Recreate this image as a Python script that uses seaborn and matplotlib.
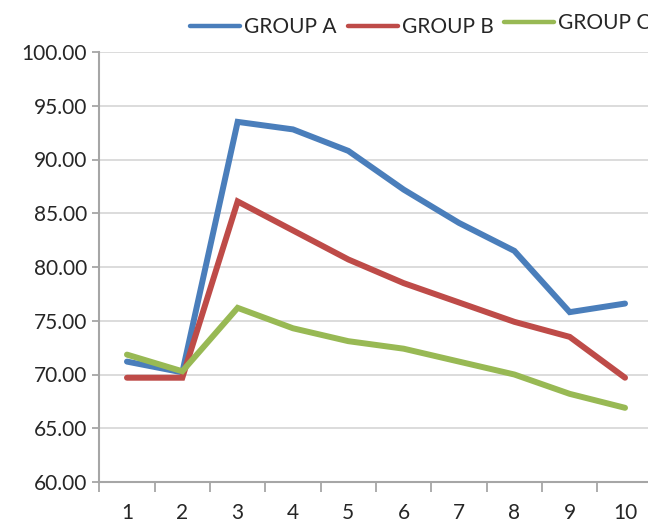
import numpy as np
import pandas as pd
import matplotlib
matplotlib.use("Agg")
import matplotlib.pyplot as plt
import seaborn as sns
from matplotlib.ticker import FixedLocator, FormatStrFormatter
from matplotlib.lines import Line2D

x_vals = [1, 2, 3, 4, 5, 6, 7, 8, 9, 10]
group_a = [71.2, 70.2, 93.5, 92.8, 90.8, 87.2, 84.1, 81.5, 75.8, 76.6]
group_b = [69.7, 69.7, 86.1, 83.4, 80.7, 78.5, 76.7, 74.9, 73.5, 69.7]
group_c = [71.85, 70.3, 76.2, 74.3, 73.1, 72.4, 71.2, 70.0, 68.2, 66.9]
series_names = ["GROUP A", "GROUP B", "GROUP C"]
colors = ["#4A7EBB", "#BE4B48", "#98B954"]
y_ticks = [60, 65, 70, 75, 80, 85, 90, 95, 100]

df = pd.DataFrame({
    "x": x_vals * 3,
    "value": group_a + group_b + group_c,
    "series": [series_names[0]] * 10 + [series_names[1]] * 10 + [series_names[2]] * 10,
})

sns.set_theme(style="white")
plt.rcParams["font.family"] = ["Lato", "DejaVu Sans"]

fig = plt.figure(figsize=(6.48, 5.22), dpi=100)
W, H = 648, 522
left, right, top, bottom = 99.3, 652.7, 52, 482
ax = fig.add_axes([left / W, (H - bottom) / H, (right - left) / W, (bottom - top) / H])

sns.lineplot(data=df, x="x", y="value", hue="series", palette=colors,
             linewidth=4.3, ax=ax, legend=False, solid_capstyle="round",
             solid_joinstyle="miter")

ax.set_xlim(0.5, 10.5)
ax.set_ylim(60, 100)
ax.set_xlabel("")
ax.set_ylabel("")

ax.yaxis.set_major_locator(FixedLocator(y_ticks))
ax.yaxis.set_major_formatter(FormatStrFormatter("%.2f"))
ax.set_xticks(x_vals)
ax.set_xticklabels([str(v) for v in x_vals])
ax.xaxis.set_minor_locator(FixedLocator(np.arange(0.5, 11, 1.0)))

ax.grid(axis="y", color="#D9D9D9", linewidth=1.3)
ax.set_axisbelow(True)

for s in ["top", "right"]:
    ax.spines[s].set_visible(False)
for s in ["left", "bottom"]:
    ax.spines[s].set_color("#A6A6A6")
    ax.spines[s].set_linewidth(1.5)

ax.tick_params(axis="y", which="major", direction="out", length=5, width=1.3,
               color="#A6A6A6", labelsize=15, labelcolor="#262626", pad=4, left=True)
ax.tick_params(axis="x", which="major", length=0, labelsize=15,
               labelcolor="#262626", pad=15)
ax.tick_params(axis="x", which="minor", direction="out", length=7, width=1.3,
               color="#A6A6A6", bottom=True)

handles = [Line2D([0], [0], color=c, linewidth=3.2, solid_capstyle="round") for c in colors]
leg_kw = dict(frameon=False, fontsize=15, handlelength=2.4, handletextpad=0.2,
              columnspacing=0.55, borderaxespad=0, borderpad=0, loc="center left")
leg1 = fig.legend(handles[:2], series_names[:2], ncol=2,
                  bbox_to_anchor=(190 / W, 1 - 27 / H), **leg_kw)
leg2 = fig.legend(handles[2:], series_names[2:], ncol=1,
                  bbox_to_anchor=(504 / W, 1 - 23 / H), **leg_kw)
for lg in (leg1, leg2):
    for t in lg.get_texts():
        t.set_color("#262626")

fig.savefig("out.png", dpi=100)
